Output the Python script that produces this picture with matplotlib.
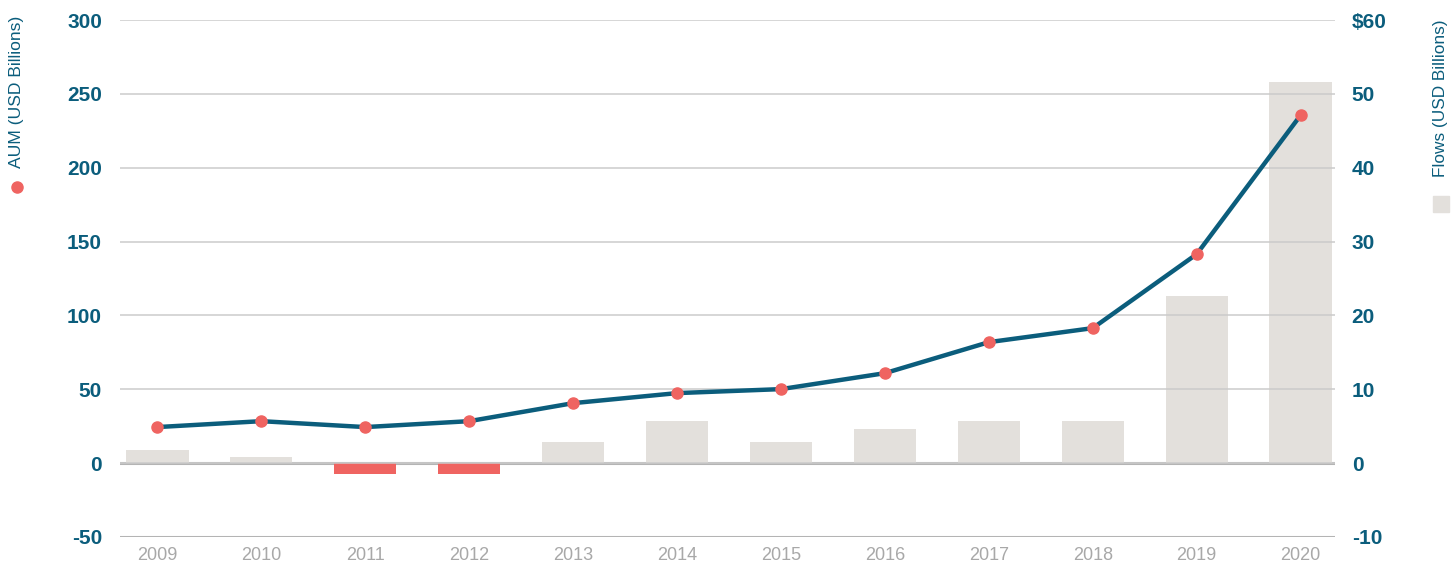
import numpy as np
import matplotlib
matplotlib.use('Agg')
from matplotlib import pyplot as plt
from matplotlib.patches import Rectangle
from matplotlib.lines import Line2D

years = ['2009', '2010', '2011', '2012', '2013', '2014', '2015', '2016', '2017', '2018', '2019', '2020']
aum = [24.4, 28.4, 24.4, 28.4, 40.6, 47.4, 50.1, 60.9, 81.9, 91.4, 141.5, 235.6]
flows = [1.8, 0.8, -1.5, -1.5, 2.8, 5.7, 2.8, 4.6, 5.7, 5.7, 22.6, 51.6]
aum_ticks = [-50, 0, 50, 100, 150, 200, 250, 300]
flow_ticks = [-10, 0, 10, 20, 30, 40, 50, 60]

TEAL = '#0b5d7c'
RED = '#ef6461'
SAND = '#e3e0dc'
GRIDC = '#cbcbcb'

plt.rcParams['font.family'] = ['Liberation Sans', 'DejaVu Sans']
plt.rcParams['axes.unicode_minus'] = False

fig = plt.figure(figsize=(14.52, 5.65), dpi=100)
ax = fig.add_axes([0.0826, 0.0496, 0.8368, 0.915])
ax2 = ax.twinx()
ax.set_zorder(ax2.get_zorder() + 1)
ax.patch.set_visible(False)

x = np.arange(len(years))
colors = [RED if v < 0 else SAND for v in flows]
ax2.axhline(0, color='#b4b4b4', lw=2.2, zorder=0.5)
ax2.bar(x, flows, width=0.6, color=colors, zorder=1)
ax2.set_ylim(-10, 60)
ax2.set_yticks(flow_ticks)
ax2.set_yticklabels(['$60' if t == 60 else str(t) for t in flow_ticks])

ax.set_ylim(-50, 300)
ax.set_yticks(aum_ticks)
ax.set_xlim(-0.36, 11.33)
ax.set_xticks(x)
ax.set_xticklabels(years)
ax.set_axisbelow(True)
ax.yaxis.grid(True, color=GRIDC, lw=1.1)
ax.axhline(-50, color='#b4b4b4', lw=2.2, zorder=1)
ax.plot(x, aum, color=TEAL, lw=3.2, zorder=3)
ax.plot(x, aum, 'o', color=RED, ms=8, zorder=4)

for a in (ax, ax2):
    for s in a.spines.values():
        s.set_visible(False)
    a.tick_params(axis='y', length=0, labelsize=15, labelcolor=TEAL)
    for lbl in a.get_yticklabels():
        lbl.set_fontweight('bold')
ax.tick_params(axis='y', pad=13)
ax2.tick_params(axis='y', pad=12)
ax.tick_params(axis='x', length=0, labelsize=13, labelcolor='#a8a8a8', pad=7)

# side labels with legend keys
fig.text(17 / 1452, 1 - 92 / 565, 'AUM (USD Billions)', rotation=90, ha='center', va='center',
         color=TEAL, fontsize=12.6)
fig.add_artist(Line2D([17 / 1452], [1 - 187 / 565], marker='o', color=RED, ms=8, ls='none',
                      transform=fig.transFigure))
fig.text(1441 / 1452, 1 - 98 / 565, 'Flows (USD Billions)', rotation=90, ha='center', va='center',
         color=TEAL, fontsize=12.4)
fig.add_artist(Rectangle((1433 / 1452, 1 - 212 / 565), 16 / 1452, 16 / 565, color=SAND,
                         transform=fig.transFigure))

fig.savefig('out.png', dpi=100)
